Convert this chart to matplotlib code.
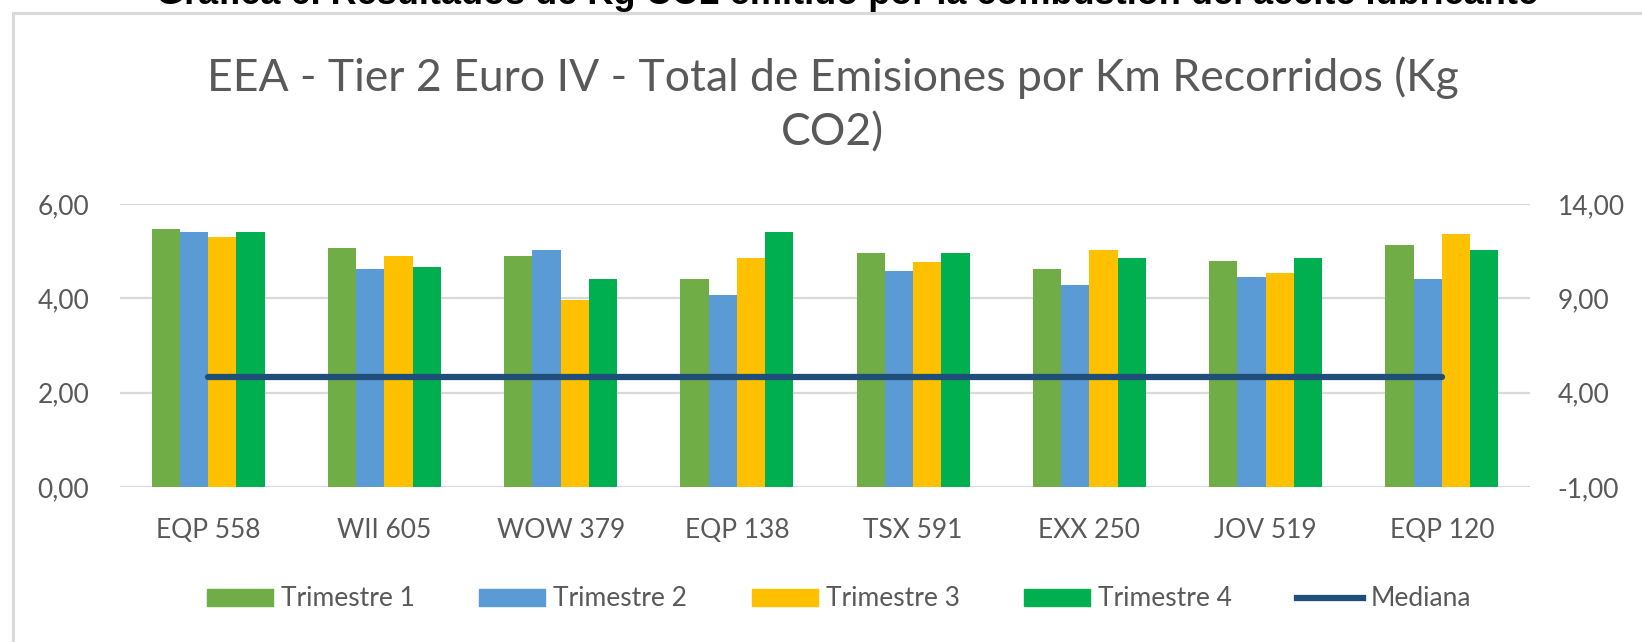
import matplotlib
matplotlib.use("Agg")
import matplotlib.pyplot as plt
from matplotlib.patches import Rectangle
from matplotlib.lines import Line2D
import numpy as np

categories = ["EQP 558", "WII 605", "WOW 379", "EQP 138", "TSX 591", "EXX 250", "JOV 519", "EQP 120"]
trimestre1 = [5.46, 5.07, 4.90, 4.41, 4.96, 4.63, 4.79, 5.13]
trimestre2 = [5.41, 4.63, 5.02, 4.08, 4.59, 4.29, 4.46, 4.41]
trimestre3 = [5.31, 4.90, 3.96, 4.85, 4.78, 5.02, 4.53, 5.36]
trimestre4 = [5.41, 4.67, 4.42, 5.41, 4.96, 4.85, 4.85, 5.02]
mediana = [4.83] * 8
series_names = ["Trimestre 1", "Trimestre 2", "Trimestre 3", "Trimestre 4"]
left_ticks = [0, 2, 4, 6]
right_ticks = [-1, 4, 9, 14]

colors = ["#70AD47", "#5B9BD5", "#FFC000", "#00B050"]
line_color = "#1F4E79"
text_color = "#595959"

plt.rcParams['font.family'] = ['Lato', 'DejaVu Sans']

W, H = 1642, 642
fig = plt.figure(figsize=(W / 100, H / 100), dpi=100)
fig.patch.set_facecolor("white")

# chart frame
fig.add_artist(Rectangle((13 / W, -0.1), 1.2, 1 - 13 / H + 0.1, transform=fig.transFigure,
                         fill=False, edgecolor="#D9D9D9", linewidth=2.2))

# cut-off caption at top
fig.text(0.516, 1 - 4.5 / H, "Gráfica 6. Resultados de Kg CO2 emitido por la combustión del aceite lubricante",
         ha="center", va="baseline", fontsize=26, fontweight="bold", color="black",
         family=["Liberation Sans Narrow", "Liberation Sans", "DejaVu Sans"])

ax = fig.add_axes([120 / W, 1 - 487 / H, (1530 - 120) / W, (487 - 204) / H])
x = np.arange(len(categories))
bw = 0.16
data = [trimestre1, trimestre2, trimestre3, trimestre4]
for i, (vals, c, name) in enumerate(zip(data, colors, series_names)):
    ax.bar(x + (i - 1.5) * bw, vals, width=bw, color=c, label=name, zorder=3)

ax.set_xlim(-0.5, len(categories) - 0.5)
ax.set_ylim(0, 6)
ax.set_yticks(left_ticks)
ax.set_yticklabels([f"{v:.2f}".replace(".", ",") for v in left_ticks])
ax.set_xticks(x)
ax.set_xticklabels(categories)
ax.grid(axis="y", color="#D9D9D9", linewidth=1.6, zorder=0)
ax.set_axisbelow(True)
for s in ax.spines.values():
    s.set_visible(False)
ax.tick_params(axis="both", length=0, colors=text_color, labelsize=19)
ax.tick_params(axis="y", pad=22)
ax.tick_params(axis="x", pad=22)

ax2 = ax.twinx()
ax2.set_ylim(-1, 14)
ax2.set_yticks(right_ticks)
ax2.set_yticklabels([f"{v:.2f}".replace(".", ",") for v in right_ticks])
ax2.plot(x, mediana, color=line_color, linewidth=4.5, solid_capstyle="round", zorder=5, label="Mediana")
for s in ax2.spines.values():
    s.set_visible(False)
ax2.tick_params(axis="y", length=0, colors=text_color, labelsize=19, pad=20)

fig.text(0.507, 1 - 105 / H, "EEA - Tier 2 Euro IV - Total de Emisiones por Km Recorridos (Kg\nCO2)",
         ha="center", va="center", fontsize=32, color=text_color, linespacing=1.4)

handles = [Rectangle((0, 0), 1, 1, color=c) for c in colors] + [Line2D([0], [0], color=line_color, linewidth=4.5)]
labels = series_names + ["Mediana"]
fig.legend(handles, labels, loc="center", bbox_to_anchor=(0.511, 1 - 599 / H), ncol=5, frameon=False,
           fontsize=19, labelcolor=text_color, handlelength=2.5, handleheight=0.6,
           handletextpad=0.3, columnspacing=2.45)

fig.savefig("out.png", dpi=100, facecolor="white")
